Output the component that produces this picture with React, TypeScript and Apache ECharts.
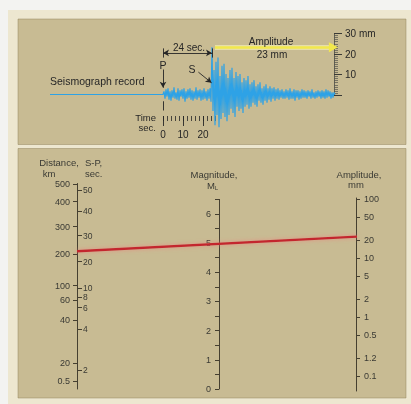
import React, { useEffect, useRef } from 'react';
import * as echarts from 'echarts';

const FONT = '"Liberation Sans", Arial, Helvetica, sans-serif';

// ---------- seismograph record (time in s after P arrival, trace in mm) ----------
const quietStartSec = -56.5;
const waveSampleStepSec = 0.5;
const waveValuesMm = [
  // P coda, 0 - 24 s
  0, 1.5, -2, 2.5, -1, 3, -2.5, 1.5, -3, 2, -1.5, 3.5, -2, 1, -2.5, 3, -3, 2, -1, 2.5,
  -2, 3, -3.5, 1.5, -2, 2.5, -1.5, 3, -2.5, 2, -3, 1.5, -2, 3.5, -2.5, 2, -1.5, 2.5, -3, 2,
  -2.5, 3, -2, 1.5, -3, 2.5, -2, 3, -3.5,
  // S arrival, 24.5 - 40 s
  23, -8, 12, -15, 16, -10, 18, -16, 9, -12, 14, -9, 15, -11, 10, -13,
  8, -10, 12, -7, 13, -9, 8, -11, 11, -6, 9, -8, 10, -7, 6, -9,
  // decay, 40.5 - 60 s
  8, -6, 7, -5, 9, -7, 5, -6, 6, -4, 7, -5, 4, -6, 5, -3, 6, -4, 3, -5,
  4, -3, 5, -4, 3, -2.5, 4, -3.5, 3, -2, 3.5, -3, 2.5, -2, 3, -2.5, 2, -1.5, 2.5, -2,
  // tail, 60.5 - 86 s
  1.5, -2, 2.5, -1.5, 2, -2.5, 3, -2, 1.5, -2, 2.5, -3, 2, -1.5, 2, -2.5, 1.5, -2, 2.5, -1.5,
  2, -1.5, 1.5, -2, 2, -1, 1.5, -2, 2.5, -1.5, 1, -2, 1.5, -1.5, 2, -1, 1.5, -2, 2, -1.5,
  1.5, -2, 2.5, -1.5, 2, -1, 1.5, -2, 1, -1.5, 1, 0,
];
const waveEndSec = 86;
const timeScaleMaxSec = 26;
const timeTickLabels = [0, 10, 20];
const rulerMaxMm = 30;
const spIntervalSec = 24;
const maxAmplitudeMm = 23;

// ---------- nomogram scales ----------
const distanceLabels = ['500', '400', '300', '200', '100', '60', '40', '20', '0.5'];
const distancePositions = [205, 187.3, 162.3, 134.7, 103.3, 89, 69, 25.7, 8];
const spLabels = ['50', '40', '30', '20', '10', '8', '6', '4', '2'];
const spValues = [50, 40, 30, 20, 10, 8, 6, 4, 2];
const spPositions = [199, 178, 153.3, 127.3, 100.6, 91.8, 81.5, 60, 19];
const nomogramScaleLength = 205.5;
const magnitudeMax = 6.5;
const amplitudeLabels = ['100', '50', '20', '10', '5', '2', '1', '0.5', '1.2', '0.1'];
const amplitudeValues = [100, 50, 20, 10, 5, 2, 1, 0.5, 0.2, 0.1];
const amplitudeRangeMm = [0.0557, 104];

const ink = '#262626';
const scaleInk = '#453f30';
const labelInk = '#3a3a34';

function labelFor(positions: number[], labels: string[]) {
  return (v: number) => {
    const i = positions.findIndex((p) => Math.abs(p - v) < 1e-3);
    return i < 0 ? '' : labels[i];
  };
}

function scalePosition(values: number[], positions: number[], v: number) {
  for (let i = 0; i < values.length - 1; i++) {
    const a = values[i];
    const b = values[i + 1];
    if ((v <= a && v >= b) || (v >= a && v <= b)) {
      return positions[i] + ((v - a) / (b - a)) * (positions[i + 1] - positions[i]);
    }
  }
  return positions[0];
}

function txt(text: string, x: number, y: number, size: number, align = 'center', color = ink) {
  return {
    type: 'text',
    x,
    y,
    z: 20,
    silent: true,
    style: { text, fontSize: size, fontFamily: FONT, fill: color, align, verticalAlign: 'middle' },
  };
}

function buildOption(extra: any[]) {
  const logAmp = amplitudeValues.map((v) => Math.log10(v));
  const hiddenX = (g: number) => ({ gridIndex: g, type: 'value', min: 0, max: 1, show: false });
  const hiddenY = (g: number) => ({ gridIndex: g, type: 'value', min: 0, max: 1, show: false });
  const line = { color: scaleInk, width: 1 };
  const wave = [[quietStartSec, 0], ...waveValuesMm.map((v, i) => [i * waveSampleStepSec, v])];
  const arrowEnd = { symbol: 'arrow', symbolSize: [5, 6] };
  const thin = { color: ink, width: 0.9, type: 'solid' };

  const graphics: any[] = [
    { type: 'rect', z: -30, silent: true, shape: { x: 0, y: 0, width: 411, height: 404 }, style: { fill: '#f3f3f1' } },
    { type: 'rect', z: -29, silent: true, shape: { x: 8, y: 10, width: 403, height: 394 }, style: { fill: '#ede7d0' } },
    { type: 'rect', z: -28, silent: true, shape: { x: 18, y: 19, width: 388, height: 125.5 }, style: { fill: '#c8bb93', stroke: 'rgba(140,125,85,0.45)', lineWidth: 1 } },
    { type: 'rect', z: -28, silent: true, shape: { x: 18, y: 148.5, width: 388, height: 249.5 }, style: { fill: '#c8bb93', stroke: 'rgba(140,125,85,0.45)', lineWidth: 1 } },
    txt('Seismograph record', 50, 81, 10.5, 'left'),
    txt('P', 163, 65, 10.5),
    txt('S', 192, 68.5, 10.5),
    txt('24 sec.', 189, 47.5, 10),
    txt('Amplitude', 271, 41, 10),
    txt('23 mm', 272, 54.5, 10),
    txt('Time', 156, 117, 9.5, 'right'),
    txt('sec.', 156, 127, 9.5, 'right'),
    txt('Distance,', 59, 162, 9.5, 'center', labelInk),
    txt('km', 49, 173, 9.5, 'center', labelInk),
    txt('S-P,', 85, 162, 9.5, 'left', labelInk),
    txt('sec.', 85, 173, 9.5, 'left', labelInk),
    txt('Magnitude,', 214, 174, 9.5, 'center', labelInk),
    txt('M', 211, 185, 9.5, 'center', labelInk),
    txt('L', 216.5, 188, 6, 'center', labelInk),
    txt('Amplitude,', 359, 174, 9.5, 'center', labelInk),
    txt('mm', 356, 184, 9.5, 'center', labelInk),
    ...extra,
  ];

  return {
    animation: false,
    backgroundColor: 'transparent',
    textStyle: { fontFamily: FONT },
    grid: [
      { left: 50, top: 33, width: 285, height: 102.5, outerBoundsMode: 'none' },
      { left: 334, top: 33.5, width: 1, height: 61.5, outerBoundsMode: 'none' },
      { left: 163, top: 100, width: 52, height: 16, outerBoundsMode: 'none' },
      { left: 163, top: 100, width: 52, height: 16, outerBoundsMode: 'none' },
      { left: 77, top: 389 - nomogramScaleLength, width: 1, height: nomogramScaleLength, outerBoundsMode: 'none' },
      { left: 219, top: 389 - magnitudeMax * 29.17, width: 1, height: magnitudeMax * 29.17, outerBoundsMode: 'none' },
      { left: 356, top: 198, width: 1, height: 193, outerBoundsMode: 'none' },
    ],
    xAxis: [
      { gridIndex: 0, type: 'value', min: quietStartSec, max: waveEndSec, show: false },
      hiddenX(1),
      {
        gridIndex: 2, type: 'value', min: 0, max: timeScaleMaxSec, interval: 2, position: 'bottom',
        axisLine: { show: false },
        axisTick: { show: true, length: 5, lineStyle: { color: ink, width: 0.8 } },
        axisLabel: { show: true, customValues: timeTickLabels, margin: 13, fontSize: 10, color: ink, fontFamily: FONT },
        splitLine: { show: false },
      },
      {
        gridIndex: 3, type: 'value', min: 0, max: timeScaleMaxSec, position: 'bottom',
        axisLine: { show: false },
        axisTick: { show: true, customValues: timeTickLabels, length: 10, lineStyle: { color: ink, width: 0.9 } },
        axisLabel: { show: false },
        splitLine: { show: false },
      },
      hiddenX(4),
      hiddenX(5),
      hiddenX(6),
    ],
    yAxis: [
      { gridIndex: 0, type: 'value', min: -20, max: 30, show: false },
      {
        gridIndex: 1, type: 'value', min: 0, max: rulerMaxMm, interval: 10, position: 'right',
        axisLine: { show: true, lineStyle: { color: '#4a4a44', width: 0.8 } },
        axisTick: { show: true, length: 8, lineStyle: { color: '#3a3a36', width: 1 } },
        minorTick: { show: true, splitNumber: 10, length: 4, lineStyle: { color: '#55554e', width: 0.7 } },
        axisLabel: {
          margin: 10, fontSize: 10, color: ink, fontFamily: FONT,
          formatter: (v: number) => (v === 0 ? '' : v === rulerMaxMm ? `${v} mm` : String(v)),
        },
        splitLine: { show: false },
        minorSplitLine: { show: false },
      },
      hiddenY(2),
      hiddenY(3),
      {
        gridIndex: 4, type: 'value', min: 0, max: nomogramScaleLength, position: 'left',
        axisLine: { show: true, lineStyle: line },
        axisTick: { show: true, customValues: distancePositions, length: 4, lineStyle: line },
        axisLabel: {
          show: true, customValues: distancePositions, formatter: labelFor(distancePositions, distanceLabels),
          margin: 7, fontSize: 9, color: labelInk, fontFamily: FONT,
        },
        splitLine: { show: false },
      },
      {
        gridIndex: 4, type: 'value', min: 0, max: nomogramScaleLength, position: 'right',
        axisLine: { show: false },
        axisTick: { show: true, customValues: spPositions, length: 4, lineStyle: line },
        axisLabel: {
          show: true, customValues: spPositions, formatter: labelFor(spPositions, spLabels),
          margin: 5, fontSize: 8.5, lineHeight: 7, color: labelInk, fontFamily: FONT,
        },
        splitLine: { show: false },
      },
      {
        gridIndex: 5, type: 'value', min: 0, max: magnitudeMax, interval: 0.5, position: 'left',
        axisLine: { show: true, lineStyle: line },
        axisTick: { show: true, length: 4, lineStyle: line },
        axisLabel: {
          margin: 8, fontSize: 9, color: labelInk, fontFamily: FONT,
          formatter: (v: number) => (Number.isInteger(v) ? String(v) : ''),
        },
        splitLine: { show: false },
      },
      {
        gridIndex: 6, type: 'value', min: Math.log10(amplitudeRangeMm[0]), max: Math.log10(amplitudeRangeMm[1]), position: 'right',
        axisLine: { show: true, lineStyle: line },
        axisTick: { show: true, customValues: logAmp, length: 4, lineStyle: line },
        axisLabel: {
          show: true, customValues: logAmp, formatter: labelFor(logAmp, amplitudeLabels),
          margin: 7, fontSize: 9, color: labelInk, fontFamily: FONT,
        },
        splitLine: { show: false },
      },
    ],
    series: [
      {
        type: 'line',
        xAxisIndex: 0,
        yAxisIndex: 0,
        data: wave,
        showSymbol: false,
        symbol: 'none',
        silent: true,
        z: 3,
        lineStyle: { color: '#2ea2e6', width: 1.2 },
        markLine: {
          silent: true,
          animation: false,
          symbol: ['none', 'none'],
          label: { show: false },
          emphasis: { disabled: true },
          lineStyle: thin,
          data: [
            [
              { coord: [26, maxAmplitudeMm], symbol: 'none', lineStyle: { color: 'rgba(255,252,190,0.55)', width: 5, type: 'solid' } },
              { coord: [83.5, maxAmplitudeMm], symbol: 'none' },
            ],
            [
              { coord: [26, maxAmplitudeMm], symbol: 'none', lineStyle: { color: '#f2e84c', width: 2.6, type: 'solid' } },
              { coord: [85.2, maxAmplitudeMm], symbol: 'triangle', symbolSize: [10, 9] },
            ],
            [
              { coord: [0, 20.3], ...arrowEnd, lineStyle: thin },
              { coord: [spIntervalSec + 0.5, 20.3], ...arrowEnd },
            ],
            [{ coord: [0, 22.5], symbol: 'none', lineStyle: thin }, { coord: [0, 18], symbol: 'none' }],
            [{ coord: [spIntervalSec + 0.5, 22.5], symbol: 'none', lineStyle: thin }, { coord: [spIntervalSec + 0.5, 18], symbol: 'none' }],
            [{ coord: [0, 12.2], symbol: 'none', lineStyle: thin }, { coord: [0, 3.3], ...arrowEnd }],
            [{ coord: [0, -3.3], symbol: 'none', lineStyle: thin }, { coord: [0, -7.8], symbol: 'none' }],
            [{ coord: [17.7, 10.9], symbol: 'none', lineStyle: thin }, { coord: [24.3, 5.7], ...arrowEnd }],
          ],
        },
      },
    ],
    graphic: graphics,
  };
}

export default function App() {
  const ref = useRef<HTMLDivElement>(null);
  useEffect(() => {
    const el = ref.current;
    if (!el) return;
    const chart = echarts.init(el, null, { renderer: 'svg' });
    chart.setOption(buildOption([]));
    const spPos = scalePosition(spValues, spPositions, spIntervalSec);
    const x1 = chart.convertToPixel({ xAxisIndex: 4 } as any, 0) as unknown as number;
    const y1 = chart.convertToPixel({ yAxisIndex: 5 } as any, spPos) as unknown as number;
    const x2 = chart.convertToPixel({ xAxisIndex: 6 } as any, 1) as unknown as number;
    const y2 = chart.convertToPixel({ yAxisIndex: 7 } as any, Math.log10(maxAmplitudeMm)) as unknown as number;
    const redLine = {
      type: 'line',
      z: 15,
      silent: true,
      shape: { x1, y1, x2, y2 },
      style: { stroke: '#c3282e', lineWidth: 2.4, shadowBlur: 4, shadowColor: 'rgba(240,120,120,0.7)' },
    };
    chart.setOption(buildOption([redLine]), true);
    return () => chart.dispose();
  }, []);
  return <div ref={ref} style={{ position: 'fixed', left: 0, top: 0, width: 411, height: 404 }} />;
}
